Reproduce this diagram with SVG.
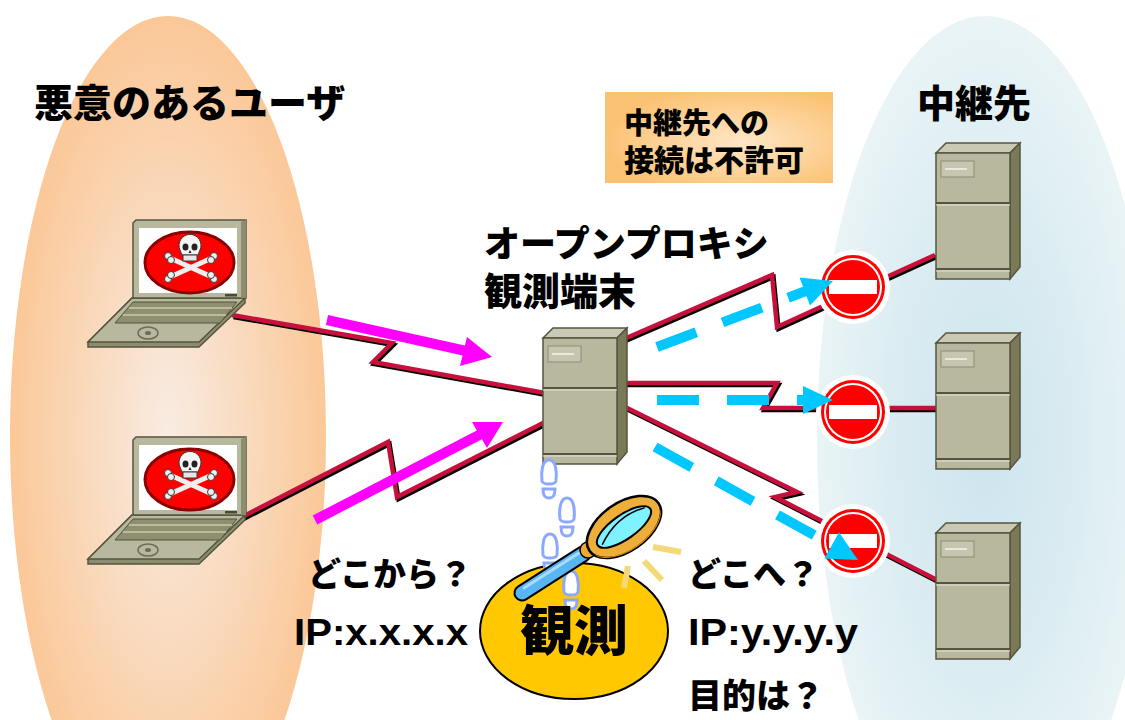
<svg xmlns="http://www.w3.org/2000/svg" xmlns:xlink="http://www.w3.org/1999/xlink" width="1125" height="720" viewBox="0 0 1125 720">
  <style>
    .lbl { font-family: "Liberation Sans", "Noto Sans CJK JP", sans-serif; font-weight: 900; fill: #000; }
    .wire-shadow { fill: none; stroke: #000; stroke-width: 4.5; stroke-linejoin: miter; }
    .wire { fill: none; stroke: #c8103c; stroke-width: 4.5; stroke-linejoin: miter; }
    .flow-in { fill: none; stroke: #ff00ff; stroke-width: 10; }
    .flow-in-head { fill: #ff00ff; }
    .flow-out { fill: none; stroke: #00c8ff; stroke-width: 10; stroke-dasharray: 42 28; }
    .flow-out-head { fill: #00c8ff; }
    .edge { stroke: #55553f; stroke-width: 1.5; }
    .foot { fill: #fff; stroke: #8aa8ff; stroke-width: 3; }
    .ray { stroke: #f3d978; stroke-width: 6; }
  </style>
  <defs>
    <radialGradient id="userZone" cx="0.5" cy="0.5" r="0.5">
      <stop offset="0" stop-color="#f9ece2"/>
      <stop offset="0.45" stop-color="#f9dcc2"/>
      <stop offset="1" stop-color="#fbc898"/>
    </radialGradient>
    <radialGradient id="relayZone" cx="0.5" cy="0.5" r="0.5">
      <stop offset="0" stop-color="#cde4ee"/>
      <stop offset="0.6" stop-color="#dcedf2"/>
      <stop offset="1" stop-color="#eaf4f6"/>
    </radialGradient>
    <radialGradient id="noteFill" cx="0.6" cy="0.55" r="0.6">
      <stop offset="0" stop-color="#ffe6c6"/>
      <stop offset="1" stop-color="#fbc274"/>
    </radialGradient>

    <!-- tower server, front face origin at 0,0 -->
    <g id="server">
      <polygon points="0,0 10,-10 84,-10 74,0" fill="#cacab4" class="edge"/>
      <polygon points="74,0 84,-10 84,114 74,126" fill="#7a7a58" class="edge"/>
      <rect x="0" y="0" width="74" height="126" fill="#b8b89e" class="edge"/>
      <line x1="0" y1="50" x2="74" y2="50" stroke="#55553f" stroke-width="2"/>
      <line x1="0" y1="52" x2="74" y2="52" stroke="#e2e2d4" stroke-width="1"/>
      <line x1="0" y1="116" x2="74" y2="116" stroke="#55553f" stroke-width="2"/>
      <line x1="0" y1="118" x2="74" y2="118" stroke="#e2e2d4" stroke-width="1"/>
      <rect x="5" y="8" width="33" height="16" fill="#c6c6b0" stroke="#8c8c72" stroke-width="1"/>
      <line x1="9" y1="16" x2="31" y2="16" stroke="#f4f4ea" stroke-width="1.5"/>
    </g>

    <!-- laptop with skull warning, screen top-left at 0,0 -->
    <g id="laptop">
      <polygon points="-1,78 112,78 112,83 66,127 -45,127 -45,122" fill="#8c8c6e" class="edge"/>
      <polygon points="-1,78 112,78 66,122 -45,122" fill="#b8b89e" class="edge"/>
      <polygon points="0,82 104,82 87,103 -18,103" fill="#8f8f70" stroke="#55553f" stroke-width="1"/>
      <line x1="-4" y1="88" x2="99" y2="88" stroke="#c9c9b2" stroke-width="1.5"/>
      <line x1="-10" y1="95" x2="93" y2="95" stroke="#c9c9b2" stroke-width="1.5"/>
      <ellipse cx="15" cy="113" rx="10" ry="6" fill="none" stroke="#6e6e56" stroke-width="1.5"/>
      <ellipse cx="15" cy="113" rx="3" ry="2" fill="#6e6e56"/>
      <polygon points="0,3 3,0 113,0 113,78 0,78" fill="#b8b89e" class="edge"/>
      <polygon points="108,2 113,0 113,78 108,78" fill="#8c8c6e"/>
      <rect x="6" y="8" width="98" height="65" fill="#fff"/>
      <rect x="92" y="74" width="12" height="2.5" fill="#4a4a3a"/>
      <ellipse cx="56.5" cy="42.5" rx="44.5" ry="30.5" fill="#ff0000" stroke="#8a0000" stroke-width="3"/>
      <g stroke="#3a3a3a" stroke-width="1">
        <line x1="37" y1="38" x2="79" y2="57" stroke="#eeeeee" stroke-width="5" stroke-linecap="round"/>
        <line x1="37" y1="57" x2="79" y2="38" stroke="#eeeeee" stroke-width="5" stroke-linecap="round"/>
        <circle cx="35" cy="36" r="3.5" fill="#eee"/>
        <circle cx="38" cy="40" r="3.5" fill="#eee"/>
        <circle cx="81" cy="36" r="3.5" fill="#eee"/>
        <circle cx="78" cy="40" r="3.5" fill="#eee"/>
        <circle cx="35" cy="59" r="3.5" fill="#eee"/>
        <circle cx="38" cy="55" r="3.5" fill="#eee"/>
        <circle cx="81" cy="59" r="3.5" fill="#eee"/>
        <circle cx="78" cy="55" r="3.5" fill="#eee"/>
        <path d="M47,30 a11,11 0 1 1 20,0 l-2,5 h-16 z" fill="#f4f4f4"/>
        <rect x="50" y="35" width="14" height="6" fill="#e6e6e6"/>
      </g>
      <ellipse cx="52.5" cy="27" rx="3" ry="3.5" fill="#222"/>
      <ellipse cx="61.5" cy="27" rx="3" ry="3.5" fill="#222"/>
      <path d="M57,30 l-1.5,3 h3 z" fill="#222"/>
    </g>

    <!-- no-entry sign centred at 0,0 -->
    <g id="noEntry">
      <circle r="37" fill="#fff"/>
      <circle r="32" fill="#ff0000"/>
      <circle r="29" fill="#fff"/>
      <circle r="27" fill="#ff0000"/>
      <rect x="-24" y="-7" width="48" height="14" fill="#fff"/>
    </g>

    <!-- footprint: sole and heel -->
    <g id="foot">
      <path d="M0,-14 C7,-14 8,-2 7,7 C6,11 -6,11 -7,7 C-8,-2 -7,-14 0,-14 z" class="foot"/>
      <path d="M-6,15 h12 C6,22 4,24 0,24 C-4,24 -6,22 -6,15 z" class="foot"/>
    </g>
  </defs>

  <!-- zones -->
  <ellipse id="zone-users" cx="168" cy="436" rx="158" ry="420" fill="url(#userZone)"/>
  <ellipse id="zone-relays" cx="985" cy="440" rx="168" ry="424" fill="url(#relayZone)"/>

  <!-- links -->
  <g id="connectors">
    <g transform="translate(1.5,2)">
      <polyline class="wire-shadow" points="232,315 392,343 373,362 545,393"/>
      <polyline class="wire-shadow" points="242,517 388,442 397,497 545,422"/>
      <polyline class="wire-shadow" points="617,342 772,275 777,327 935,255"/>
      <polyline class="wire-shadow" points="617,383 777,383 763,408 936,408"/>
      <polyline class="wire-shadow" points="617,403 797,492 775,497 937,580"/>
    </g>
    <polyline class="wire" points="232,315 392,343 373,362 545,393"/>
    <polyline class="wire" points="242,517 388,442 397,497 545,422"/>
    <polyline class="wire" points="617,342 772,275 777,327 935,255"/>
    <polyline class="wire" points="617,383 777,383 763,408 936,408"/>
    <polyline class="wire" points="617,403 797,492 775,497 937,580"/>
  </g>

  <!-- observation terminal -->
  <g id="proxy">
    <use xlink:href="#server" href="#server" x="543" y="338"/>
  </g>

  <!-- relay destinations -->
  <g id="relay-1"><use xlink:href="#server" href="#server" x="936" y="153"/></g>
  <g id="relay-2"><use xlink:href="#server" href="#server" x="936" y="343"/></g>
  <g id="relay-3"><use xlink:href="#server" href="#server" x="936" y="533"/></g>

  <!-- attackers -->
  <g id="attacker-1"><use xlink:href="#laptop" href="#laptop" x="133" y="220"/></g>
  <g id="attacker-2"><use xlink:href="#laptop" href="#laptop" x="133" y="437"/></g>

  <!-- blocked connections -->
  <g id="block-1"><use xlink:href="#noEntry" href="#noEntry" x="853" y="287"/></g>
  <g id="block-2"><use xlink:href="#noEntry" href="#noEntry" x="853" y="412"/></g>
  <g id="block-3"><use xlink:href="#noEntry" href="#noEntry" x="853" y="541"/></g>

  <!-- incoming request flows -->
  <g id="flows-in">
    <line class="flow-in" x1="327" y1="320" x2="466" y2="351"/>
    <polygon class="flow-in-head" points="492,357 460,366 467,337"/>
    <line class="flow-in" x1="315" y1="520" x2="481" y2="434"/>
    <polygon class="flow-in-head" points="503,422 487,448 472,422"/>
  </g>

  <!-- outgoing relay attempts -->
  <g id="flows-out">
    <line class="flow-out" x1="657" y1="347" x2="806" y2="291"/>
    <polygon class="flow-out-head" points="833,281 810,305.5 799.6,277.5"/>
    <line class="flow-out" x1="657" y1="400" x2="806" y2="400"/>
    <polygon class="flow-out-head" points="833,400 803,414 803,386"/>
    <line class="flow-out" x1="655" y1="447" x2="832" y2="545"/>
    <polygon class="flow-out-head" points="858,560 824.4,558.5 839,532.3"/>
  </g>

  <!-- note -->
  <g id="note">
    <rect x="605" y="92" width="228" height="91" fill="url(#noteFill)"/>
    <text class="lbl" x="624" y="134" font-size="29">中継先への</text>
    <text class="lbl" x="624" y="171" font-size="30">接続は不許可</text>
  </g>

  <!-- observation badge -->
  <g id="observe">
    <ellipse cx="574" cy="631" rx="94" ry="68" fill="#ffc800" stroke="#000" stroke-width="2"/>
    <use xlink:href="#foot" href="#foot" x="549" y="474"/>
    <use xlink:href="#foot" href="#foot" x="567" y="512"/>
    <use xlink:href="#foot" href="#foot" x="550" y="548"/>
    <use xlink:href="#foot" href="#foot" x="571" y="585"/>
    <line class="ray" x1="653" y1="547" x2="681" y2="552"/>
    <line class="ray" x1="644" y1="561" x2="662" y2="580"/>
    <line class="ray" x1="628" y1="566" x2="624" y2="588"/>
    <line x1="522" y1="593" x2="583" y2="554" stroke="#000" stroke-width="17" stroke-linecap="round"/>
    <line x1="522" y1="593" x2="583" y2="554" stroke="#58b6f2" stroke-width="13" stroke-linecap="round"/>
    <line x1="524" y1="588" x2="579" y2="553" stroke="#a8dcff" stroke-width="3" stroke-linecap="round"/>
    <circle cx="588" cy="550" r="8" fill="#f0a830" stroke="#000" stroke-width="1.5"/>
    <g transform="translate(624,527) rotate(-35)">
      <ellipse rx="42" ry="24" fill="#eeae3a" stroke="#000" stroke-width="2.5"/>
      <path d="M-40,6 A42,24 0 0 0 40,6 L38,10 A42,24 0 0 1 -38,10 z" fill="#dd8e1a"/>
      <ellipse rx="32" ry="12" fill="#7ef2ff" stroke="#000" stroke-width="2"/>
      <path d="M-28,2 Q0,-14 28,-4" fill="none" stroke="#000" stroke-width="1.5"/>
    </g>
    <text class="lbl" x="574" y="651" font-size="54" text-anchor="middle">観測</text>
  </g>

  <!-- labels -->
  <g id="labels">
    <text class="lbl" x="34" y="117" font-size="39">悪意のあるユーザ</text>
    <text class="lbl" x="917" y="117" font-size="38">中継先</text>
    <text class="lbl" x="484" y="257" font-size="36">オープンプロキシ</text>
    <text class="lbl" x="484" y="305" font-size="38">観測端末</text>
    <text class="lbl" x="308" y="586" font-size="33">どこから？</text>
    <text class="lbl" x="294" y="645" font-size="36" textLength="174" lengthAdjust="spacingAndGlyphs">IP:x.x.x.x</text>
    <text class="lbl" x="688" y="586" font-size="33">どこへ？</text>
    <text class="lbl" x="688" y="645" font-size="36" textLength="170" lengthAdjust="spacingAndGlyphs">IP:y.y.y.y</text>
    <text class="lbl" x="688" y="708" font-size="34">目的は？</text>
  </g>
</svg>
